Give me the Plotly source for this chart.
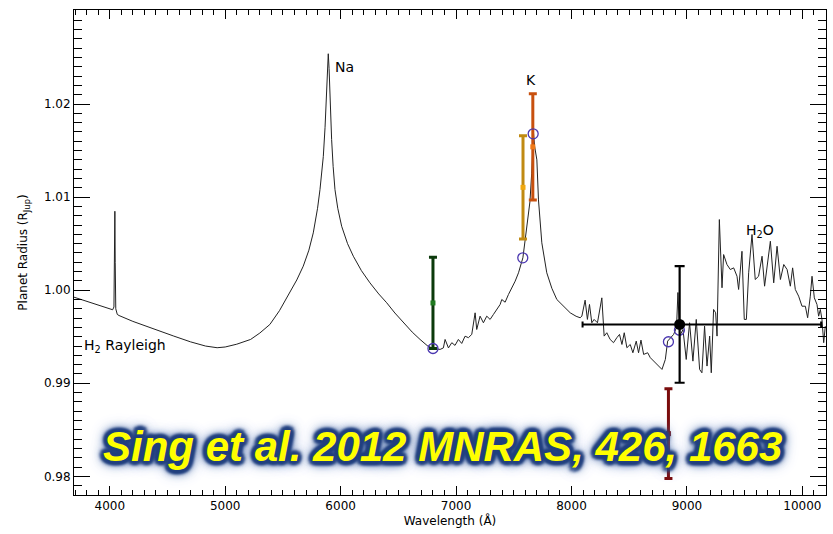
import plotly.graph_objects as go

# Model transmission spectrum: wavelength (Angstrom) and planet radius (R_Jup)
wavelength = [
    3690, 3800, 3900, 3960, 4000, 4025, 4036, 4041, 4044, 4047, 4052, 4065, 4080,
    4200, 4350, 4555, 4700, 4830, 4930, 5000, 5100, 5220, 5300, 5387, 5470, 5561,
    5620, 5676, 5725, 5763, 5800, 5821, 5840, 5850, 5865, 5873, 5880, 5887, 5893,
    5900, 5908, 5922, 5935, 5951, 5975, 6009, 6060, 6110, 6180, 6254, 6330, 6399,
    6470, 6543, 6620, 6688, 6750, 6800, 6862, 6890, 6905, 6934, 6963, 6991, 7020,
    7049, 7078, 7107, 7136, 7165, 7179, 7208, 7237, 7266, 7295, 7324, 7353, 7382,
    7396, 7425, 7454, 7483, 7512, 7541, 7579, 7599, 7619, 7640, 7655, 7665, 7671,
    7680, 7692, 7700, 7714, 7743, 7786, 7830, 7873, 7930, 7989, 8040, 8075, 8090,
    8118, 8138, 8156, 8176, 8196, 8225, 8263, 8283, 8306, 8335, 8364, 8393, 8416,
    8437, 8457, 8480, 8509, 8532, 8561, 8581, 8602, 8625, 8660, 8683, 8712, 8755,
    8784, 8813, 8833, 8885, 8910, 8922, 8937, 8966, 8994, 9023, 9052, 9081, 9110,
    9130, 9153, 9174, 9197, 9211, 9231, 9249, 9261, 9281, 9304, 9318, 9347, 9376,
    9405, 9434, 9448, 9477, 9497, 9515, 9535, 9564, 9592, 9621, 9651, 9673, 9694,
    9723, 9752, 9781, 9810, 9839, 9868, 9896, 9916, 9939, 9968, 9997, 10026, 10046,
    10069, 10084, 10104, 10127, 10141, 10156, 10170, 10185, 10199,
]
radius = [
    0.99925, 0.99878, 0.99836, 0.99810, 0.99793, 0.99790, 0.99820, 1.00300, 1.00848,
    1.00300, 0.99800, 0.99740, 0.99728, 0.99665, 0.99595, 0.99507, 0.99445, 0.99400,
    0.99382, 0.99390, 0.99420, 0.99471, 0.99540, 0.99632, 0.99780, 0.99972, 1.00110,
    1.00258, 1.00430, 1.00616, 1.00880, 1.01080, 1.01300, 1.01438, 1.01750, 1.01974,
    1.02250, 1.02540, 1.02540, 1.02380, 1.02000, 1.01617, 1.01330, 1.01080, 1.00880,
    1.00687, 1.00500, 1.00365, 1.00210, 1.00079, 0.99960, 0.99865, 0.99755, 0.99650,
    0.99550, 0.99471, 0.99405, 0.99374, 0.99364, 0.99380, 0.99471, 0.99380, 0.99436,
    0.99407, 0.99471, 0.99428, 0.99506, 0.99490, 0.99525, 0.99757, 0.99578, 0.99721,
    0.99650, 0.99721, 0.99686, 0.99740, 0.99793, 0.99847, 0.99900, 0.99871, 0.99954,
    1.00026, 1.00097, 1.00187, 1.00348, 1.00544, 1.00760, 1.00950, 1.01250, 1.01600,
    1.01690, 1.01550, 1.01450, 1.01400, 1.00970, 1.00509, 1.00187, 1.00020, 0.99900,
    0.99830, 0.99757, 0.99720, 0.99704, 0.99721, 0.99893, 0.99686, 0.99847, 0.99650,
    0.99686, 0.99650, 0.99918, 0.99507, 0.99543, 0.99471, 0.99436, 0.99490, 0.99525,
    0.99417, 0.99543, 0.99382, 0.99417, 0.99328, 0.99453, 0.99328, 0.99464, 0.99310,
    0.99328, 0.99275, 0.99238, 0.99185, 0.99149, 0.99256, 0.99453, 0.99525, 0.99600,
    0.99975, 0.99507, 0.99578, 0.99256, 0.99650, 0.99238, 0.99686, 0.99149, 0.99113,
    0.99614, 0.99185, 0.99507, 0.99113, 0.99793, 0.99757, 0.99507, 1.00759, 1.00026,
    1.00383, 1.00276, 1.00222, 1.00240, 1.00150, 1.00008, 1.00418, 0.99686, 0.99686,
    1.00187, 1.00598, 1.00115, 1.00150, 1.00365, 1.00043, 1.00258, 1.00526, 1.00079,
    1.00472, 1.00115, 1.00276, 1.00222, 1.00043, 1.00240, 1.00008, 0.99936, 0.99828,
    0.99828, 0.99704, 0.99936, 1.00150, 0.99918, 0.99846, 0.99721, 0.99793, 0.99686,
    0.99436, 0.99614,
]

# Model values binned at the measured band centres (open circles)
bin_wl = [6800, 7578, 7668, 8840, 8935]
bin_radius = [0.99374, 1.00348, 1.01680, 0.99446, 0.99571]

# Narrow-band measurements
band_wl = [6800, 7580, 7665, 8840]
band_radius = [0.99863, 1.01105, 1.01540, 0.98459]
band_err = [0.00490, 0.00555, 0.00570, 0.00483]
band_bar_color = ["#0c3a0c", "#c08a12", "#c8500e", "#7a0c0c"]
band_mark_color = ["#1f7a1f", "#f0a810", "#f07a18", "#7a0c0c"]

# Broad-band measurement with wavelength span
broad_wl = [8937]
broad_radius = [0.99632]
broad_err = [0.00626]
broad_wl_minus = [841]
broad_wl_plus = [1226]

# Axis ranges and tick labels
x_range = [3690, 10205]
y_range = [0.978, 1.0301]
x_ticks = [4000, 5000, 6000, 7000, 8000, 9000, 10000]
y_ticks = [0.98, 0.99, 1.00, 1.01, 1.02]

fig = go.Figure()

fig.add_trace(go.Scatter(
    x=wavelength, y=radius, mode="lines",
    line=dict(color="#222222", width=1),
    hoverinfo="skip", showlegend=False,
))

for wl, r, e, bc, mc in zip(band_wl, band_radius, band_err, band_bar_color, band_mark_color):
    fig.add_trace(go.Scatter(
        x=[wl], y=[r], mode="markers",
        marker=dict(symbol="square", size=5, color=mc, line=dict(width=0)),
        error_y=dict(type="data", array=[e], color=bc, thickness=3, width=4),
        showlegend=False,
    ))

fig.add_trace(go.Scatter(
    x=bin_wl, y=bin_radius, mode="markers",
    marker=dict(symbol="circle-open", size=10, color="#4a36b0", line=dict(width=1.3)),
    showlegend=False,
))

fig.add_trace(go.Scatter(
    x=broad_wl, y=broad_radius, mode="markers",
    marker=dict(symbol="circle", size=11, color="black"),
    error_y=dict(type="data", array=broad_err, color="black", thickness=2.2, width=5),
    error_x=dict(type="data", symmetric=False, array=broad_wl_plus,
                 arrayminus=broad_wl_minus, color="black", thickness=2, width=3),
    showlegend=False,
))

label_font = dict(family="DejaVu Sans", size=14, color="black")
fig.add_annotation(x=5930, y=1.0240, text="Na", showarrow=False,
                   xanchor="left", yanchor="middle", font=label_font)
fig.add_annotation(x=7649, y=1.0226, text="K", showarrow=False,
                   xanchor="center", yanchor="middle", font=label_font)
fig.add_annotation(x=9637, y=1.0064, text="H<sub>2</sub>O", showarrow=False,
                   xanchor="center", yanchor="middle", font=label_font)
fig.add_annotation(x=3755, y=0.99396, text="H<sub>2</sub> Rayleigh", showarrow=False,
                   xanchor="left", yanchor="middle", font=label_font)

# Citation banner: yellow bold italic text with a soft dark-blue glow
glow = ", ".join([
    "4px 0 3px #22407f", "-4px 0 3px #22407f", "0 4px 3px #22407f", "0 -4px 3px #22407f",
    "3px 3px 3px #22407f", "-3px 3px 3px #22407f", "3px -3px 3px #22407f", "-3px -3px 3px #22407f",
    "0 0 6px #284a8c", "0 0 9px #30529a", "0 0 11px #3e60a2", "0 0 14px #5a78b2",
    "0 0 18px #90a8d0",
])
fig.add_annotation(
    xref="paper", yref="paper", x=0.49, y=0.101,
    text="Sing et al. 2012 MNRAS, 426, 1663", showarrow=False,
    xanchor="center", yanchor="middle",
    font=dict(family="Liberation Sans", size=42, color="#ffff00",
              weight="bold", style="italic", shadow=glow),
)

tick_font = dict(family="DejaVu Sans", size=12, color="black")
title_font = dict(family="DejaVu Sans", size=12, color="black")

fig.update_xaxes(
    range=x_range, tickmode="array", tickvals=x_ticks,
    ticktext=[str(v) for v in x_ticks],
    ticks="inside", ticklen=9, tickcolor="black", tickwidth=1,
    minor=dict(dtick=100, tick0=4000, ticks="inside", ticklen=5, tickcolor="black", tickwidth=1),
    showline=True, linecolor="black", linewidth=1, mirror=True,
    showgrid=False, zeroline=False, tickfont=tick_font,
    title=dict(text="Wavelength (Å)", font=title_font, standoff=4),
)
fig.update_yaxes(
    range=y_range, tickmode="array", tickvals=y_ticks,
    ticktext=[f"{v:.2f}" for v in y_ticks],
    ticks="inside", ticklen=16, tickcolor="black", tickwidth=1,
    minor=dict(dtick=0.001, tick0=0.98, ticks="inside", ticklen=8, tickcolor="black", tickwidth=1),
    showline=True, linecolor="black", linewidth=1, mirror=True,
    showgrid=False, zeroline=False, tickfont=tick_font,
    title=dict(text="Planet Radius (R<sub>Jup</sub>)", font=title_font, standoff=13),
)

# Tick marks repeated along the top and right edges of the frame
fig.update_layout(
    xaxis2=dict(
        overlaying="x", side="top", range=x_range, tickmode="array", tickvals=x_ticks,
        showticklabels=False, ticks="inside", ticklen=9, tickcolor="black", tickwidth=1,
        minor=dict(dtick=100, tick0=4000, ticks="inside", ticklen=5, tickcolor="black", tickwidth=1),
        showgrid=False, zeroline=False, showline=False,
    ),
    yaxis2=dict(
        overlaying="y", side="right", range=y_range, tickmode="array", tickvals=y_ticks,
        showticklabels=False, ticks="inside", ticklen=16, tickcolor="black", tickwidth=1,
        minor=dict(dtick=0.001, tick0=0.98, ticks="inside", ticklen=8, tickcolor="black", tickwidth=1),
        showgrid=False, zeroline=False, showline=False,
    ),
)
fig.add_trace(go.Scatter(x=[x_range[0]], y=[y_range[0]], xaxis="x2", yaxis="y2",
                         mode="markers", marker=dict(opacity=0), hoverinfo="skip",
                         showlegend=False))

fig.update_layout(
    width=833, height=534,
    margin=dict(l=74, r=7, t=10, b=39),
    paper_bgcolor="white", plot_bgcolor="white",
    showlegend=False,
)

fig.write_html("out.html")
